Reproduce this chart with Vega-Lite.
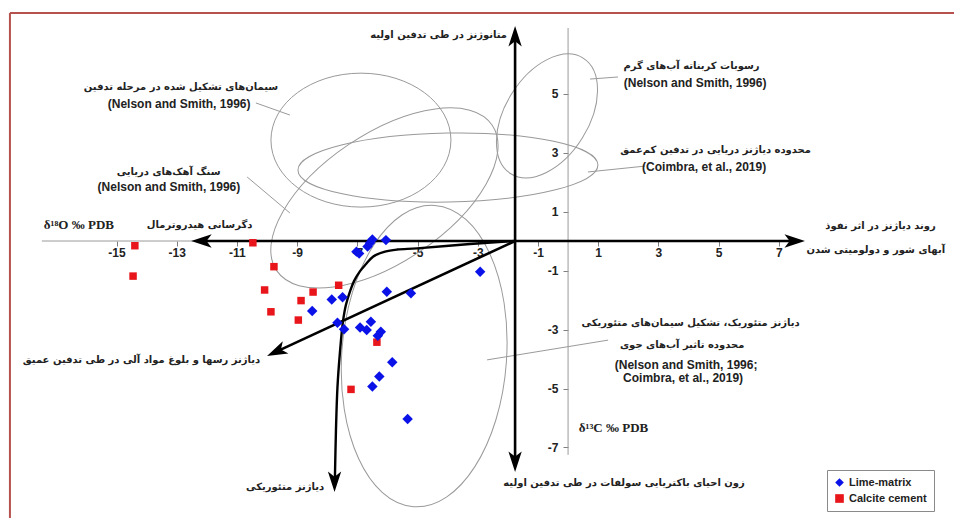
{
  "$schema": "https://vega.github.io/schema/vega-lite/v6.json",
  "width": 954,
  "height": 518,
  "autosize": {"type": "none"},
  "padding": 0,
  "background": "white",
  "config": {"view": {"stroke": null}},
  "datasets": {
    "lime": [
      {"d18O": -7.03, "d13C": -0.36, "type": "Lime-matrix"},
      {"d18O": -6.94, "d13C": -0.42, "type": "Lime-matrix"},
      {"d18O": -6.66, "d13C": -0.19, "type": "Lime-matrix"},
      {"d18O": -6.58, "d13C": -0.07, "type": "Lime-matrix"},
      {"d18O": -6.5, "d13C": 0.05, "type": "Lime-matrix"},
      {"d18O": -6.05, "d13C": 0.03, "type": "Lime-matrix"},
      {"d18O": -2.92, "d13C": -1.04, "type": "Lime-matrix"},
      {"d18O": -6.02, "d13C": -1.72, "type": "Lime-matrix"},
      {"d18O": -5.22, "d13C": -1.77, "type": "Lime-matrix"},
      {"d18O": -7.85, "d13C": -1.98, "type": "Lime-matrix"},
      {"d18O": -7.49, "d13C": -1.91, "type": "Lime-matrix"},
      {"d18O": -8.5, "d13C": -2.37, "type": "Lime-matrix"},
      {"d18O": -7.66, "d13C": -2.77, "type": "Lime-matrix"},
      {"d18O": -7.44, "d13C": -2.99, "type": "Lime-matrix"},
      {"d18O": -6.91, "d13C": -2.93, "type": "Lime-matrix"},
      {"d18O": -6.69, "d13C": -3.02, "type": "Lime-matrix"},
      {"d18O": -6.55, "d13C": -2.74, "type": "Lime-matrix"},
      {"d18O": -6.22, "d13C": -3.08, "type": "Lime-matrix"},
      {"d18O": -6.32, "d13C": -3.21, "type": "Lime-matrix"},
      {"d18O": -5.84, "d13C": -4.11, "type": "Lime-matrix"},
      {"d18O": -6.27, "d13C": -4.59, "type": "Lime-matrix"},
      {"d18O": -6.5, "d13C": -4.93, "type": "Lime-matrix"},
      {"d18O": -5.33, "d13C": -6.03, "type": "Lime-matrix"}
    ],
    "calcite": [
      {"d18O": -14.39, "d13C": -0.16, "type": "Calcite cement"},
      {"d18O": -14.45, "d13C": -1.19, "type": "Calcite cement"},
      {"d18O": -10.47, "d13C": -0.06, "type": "Calcite cement"},
      {"d18O": -9.77, "d13C": -0.87, "type": "Calcite cement"},
      {"d18O": -10.08, "d13C": -1.66, "type": "Calcite cement"},
      {"d18O": -8.47, "d13C": -1.73, "type": "Calcite cement"},
      {"d18O": -8.87, "d13C": -2.02, "type": "Calcite cement"},
      {"d18O": -7.62, "d13C": -1.5, "type": "Calcite cement"},
      {"d18O": -9.87, "d13C": -2.4, "type": "Calcite cement"},
      {"d18O": -8.96, "d13C": -2.68, "type": "Calcite cement"},
      {"d18O": -6.35, "d13C": -3.43, "type": "Calcite cement"},
      {"d18O": -7.21, "d13C": -5.03, "type": "Calcite cement"}
    ],
    "frame": [
      {"d18O": -18.54, "d13C": 7.73, "d18O_end": 12.82, "d13C_end": 7.73},
      {"d18O": -18.54, "d13C": 7.73, "d18O_end": -18.54, "d13C_end": -9.39}
    ],
    "grayAxes": [
      {"d18O": -17.48, "d13C": 0, "d18O_end": 7.6, "d13C_end": 0},
      {"d18O": 0, "d13C": 7.22, "d18O_end": 0, "d13C_end": -7.25}
    ],
    "leaders": [
      {"d18O": -10.37, "d13C": 4.68, "d18O_end": -9.24, "d13C_end": 4.27},
      {"d18O": -10.66, "d13C": 2.17, "d18O_end": -9.24, "d13C_end": 0.95},
      {"d18O": 0.73, "d13C": 5.49, "d18O_end": 1.66, "d13C_end": 5.56},
      {"d18O": 0.66, "d13C": 2.34, "d18O_end": 2.56, "d13C_end": 2.54},
      {"d18O": -2.69, "d13C": -4.03, "d18O_end": 1.33, "d13C_end": -3.36}
    ],
    "blackLines": [
      {"d18O": -12.05, "d13C": 0, "d18O_end": 7.4, "d13C_end": 0},
      {"d18O": -1.76, "d13C": 6.82, "d18O_end": -1.76, "d13C_end": -7.36},
      {"d18O": -1.76, "d13C": 0, "d18O_end": -9.58, "d13C_end": -3.7}
    ],
    "curve": [
      {"seq": 0, "d18O": -1.76, "d13C": 0.0},
      {"seq": 1, "d18O": -3.26, "d13C": -0.1},
      {"seq": 2, "d18O": -5.02, "d13C": -0.25},
      {"seq": 3, "d18O": -5.68, "d13C": -0.29},
      {"seq": 4, "d18O": -6.08, "d13C": -0.36},
      {"seq": 5, "d18O": -6.48, "d13C": -0.53},
      {"seq": 6, "d18O": -6.71, "d13C": -0.78},
      {"seq": 7, "d18O": -6.91, "d13C": -1.02},
      {"seq": 8, "d18O": -7.11, "d13C": -1.36},
      {"seq": 9, "d18O": -7.24, "d13C": -1.7},
      {"seq": 10, "d18O": -7.38, "d13C": -2.17},
      {"seq": 11, "d18O": -7.48, "d13C": -2.75},
      {"seq": 12, "d18O": -7.58, "d13C": -3.8},
      {"seq": 13, "d18O": -7.66, "d13C": -4.95},
      {"seq": 14, "d18O": -7.71, "d13C": -6.41},
      {"seq": 15, "d18O": -7.745, "d13C": -8.05}
    ],
    "faText": [
      {"d18O": -4.3, "d13C": 6.98, "label": "متانوژنز در طی تدفین اولیه"},
      {"d18O": -12.86, "d13C": 5.22, "label": "سیمان\u200cهای تشکیل شده در مرحله تدفین"},
      {"d18O": -13.27, "d13C": 2.34, "label": "سنگ آهک\u200cهای دریایی"},
      {"d18O": -12.24, "d13C": 0.54, "label": "دگرسانی هیدروترمال"},
      {"d18O": 4.1, "d13C": 5.93, "label": "رسوبات کربناته آب\u200cهای گرم"},
      {"d18O": 4.9, "d13C": 3.08, "label": "محدوده دیاژنز دریایی در تدفین کم\u200cعمق"},
      {"d18O": 10.38, "d13C": 0.51, "label": "روند دیاژنز در اثر نفوذ"},
      {"d18O": 10.22, "d13C": -0.31, "label": "آبهای شور و دولومیتی شدن"},
      {"d18O": 4.07, "d13C": -2.78, "label": "دیاژنز متئوریک، تشکیل سیمان\u200cهای متئوریکی"},
      {"d18O": 3.79, "d13C": -3.53, "label": "محدوده تاثیر آب\u200cهای جوی"},
      {"d18O": -14.17, "d13C": -4.03, "label": "دیاژنز رسها و بلوغ مواد آلی در طی تدفین عمیق"},
      {"d18O": -9.4, "d13C": -8.34, "label": "دیاژنز متئوریکی"},
      {"d18O": 1.86, "d13C": -8.2, "label": "زون احیای باکتریایی سولفات در طی تدفین اولیه"}
    ],
    "enText": [
      {"d18O": -12.92, "d13C": 4.64, "label": "(Nelson and Smith, 1996)"},
      {"d18O": -13.26, "d13C": 1.83, "label": "(Nelson and Smith, 1996)"},
      {"d18O": 4.22, "d13C": 5.36, "label": "(Nelson and Smith, 1996)"},
      {"d18O": 4.52, "d13C": 2.51, "label": "(Coimbra, et al., 2019)"},
      {"d18O": 3.92, "d13C": -4.2, "label": "(Nelson and Smith, 1996;"},
      {"d18O": 3.82, "d13C": -4.64, "label": "Coimbra, et al., 2019)"}
    ],
    "axisTitles": [
      {"d18O": -16.25, "d13C": 0.54, "label": "δ¹⁸O ‰ PDB"},
      {"d18O": 1.51, "d13C": -6.34, "label": "δ¹³C ‰ PDB"}
    ]
  },
  "encoding": {
    "x": {
      "field": "d18O",
      "type": "quantitative",
      "scale": {"domain": [-18.87, 12.82], "nice": false, "zero": false},
      "axis": {
        "orient": "bottom", "offset": -277, "title": null,
        "values": [-15, -13, -11, -9, -7, -5, -3, -1, 1, 3, 5, 7],
        "labelExpr": "datum.value < 0 ? '-' + abs(datum.value) : '' + datum.value",
        "domain": false, "grid": false, "tickSize": 5, "tickColor": "#808080",
        "labelFont": "Liberation Sans", "labelFontWeight": "bold", "labelFontSize": 12,
        "labelColor": "#222222", "labelPadding": 1, "labelFlush": false, "labelOverlap": false
      }
    },
    "y": {
      "field": "d13C",
      "type": "quantitative",
      "scale": {"domain": [-9.39, 8.17], "nice": false, "zero": false},
      "axis": {
        "orient": "left", "offset": -568, "title": null,
        "values": [-7, -5, -3, -1, 1, 3, 5],
        "labelExpr": "datum.value < 0 ? '-' + abs(datum.value) : '' + datum.value",
        "domain": false, "grid": false, "tickSize": 5, "tickColor": "#808080",
        "labelFont": "Liberation Sans", "labelFontWeight": "bold", "labelFontSize": 12,
        "labelColor": "#222222", "labelPadding": 5, "labelOverlap": false
      }
    }
  },
  "layer": [
    {
      "data": {"name": "frame"},
      "mark": {"type": "rule", "color": "#b5524e", "strokeWidth": 2},
      "encoding": {"x2": {"field": "d18O_end"}, "y2": {"field": "d13C_end"}}
    },
    {
      "data": {"name": "grayAxes"},
      "mark": {"type": "rule", "color": "#9a9a9a", "strokeWidth": 1},
      "encoding": {"x2": {"field": "d18O_end"}, "y2": {"field": "d13C_end"}}
    },
    {
      "data": {"values": [{"d18O": -0.7, "d13C": 4.24}]},
      "mark": {"type": "point", "filled": false, "opacity": 1, "color": "#999999", "strokeWidth": 1,
               "shape": "M-1,0 A1,0.611 0 1,1 1,0 A1,0.611 0 1,1 -1,0 Z", "size": 18605, "angle": 302}
    },
    {
      "data": {"values": [{"d18O": -3.99, "d13C": 2.49}]},
      "mark": {"type": "point", "filled": false, "opacity": 1, "color": "#999999", "strokeWidth": 1,
               "shape": "M-1,0 A1,0.23 0 1,1 1,0 A1,0.23 0 1,1 -1,0 Z", "size": 90000, "angle": 359}
    },
    {
      "data": {"values": [{"d18O": -6.88, "d13C": 3.42}]},
      "mark": {"type": "point", "filled": false, "opacity": 1, "color": "#999999", "strokeWidth": 1,
               "shape": "M-1,0 A1,0.744 0 1,1 1,0 A1,0.744 0 1,1 -1,0 Z", "size": 32400, "angle": 0}
    },
    {
      "data": {"values": [{"d18O": -6.1, "d13C": 1.46}]},
      "mark": {"type": "point", "filled": false, "opacity": 1, "color": "#999999", "strokeWidth": 1,
               "shape": "M-1,0 A1,0.494 0 1,1 1,0 A1,0.494 0 1,1 -1,0 Z", "size": 67600, "angle": 326}
    },
    {
      "data": {"values": [{"d18O": -4.78, "d13C": -3.9}]},
      "mark": {"type": "point", "filled": false, "opacity": 1, "color": "#999999", "strokeWidth": 1,
               "shape": "M0,-1 A0.546,1 0 1,1 0,1 A0.546,1 0 1,1 0,-1 Z", "size": 91204, "angle": 4}
    },
    {
      "data": {"name": "leaders"},
      "mark": {"type": "rule", "color": "#9a9a9a", "strokeWidth": 1},
      "encoding": {"x2": {"field": "d18O_end"}, "y2": {"field": "d13C_end"}}
    },
    {
      "data": {"name": "blackLines"},
      "mark": {"type": "rule", "color": "#000000", "strokeWidth": 2.6},
      "encoding": {"x2": {"field": "d18O_end"}, "y2": {"field": "d13C_end"}}
    },
    {
      "data": {"name": "curve"},
      "mark": {"type": "line", "color": "#000000", "strokeWidth": 2.4, "interpolate": "catmull-rom"},
      "encoding": {"order": {"field": "seq", "type": "quantitative"}}
    },
    {
      "data": {"values": [{"d18O": -12.52, "d13C": 0}]},
      "mark": {"type": "point", "filled": true, "opacity": 1, "color": "#000000", "strokeWidth": 0,
               "shape": "M0,0 L2,-0.65 L1.5,0 L2,0.65 Z", "size": 420, "angle": 0}
    },
    {
      "data": {"values": [{"d18O": 7.87, "d13C": 0}]},
      "mark": {"type": "point", "filled": true, "opacity": 1, "color": "#000000", "strokeWidth": 0,
               "shape": "M0,0 L2,-0.65 L1.5,0 L2,0.65 Z", "size": 420, "angle": 180}
    },
    {
      "data": {"values": [{"d18O": -1.76, "d13C": 7.29}]},
      "mark": {"type": "point", "filled": true, "opacity": 1, "color": "#000000", "strokeWidth": 0,
               "shape": "M0,0 L2,-0.65 L1.5,0 L2,0.65 Z", "size": 420, "angle": 90}
    },
    {
      "data": {"values": [{"d18O": -1.76, "d13C": -7.83}, {"d18O": -7.757, "d13C": -8.51}]},
      "mark": {"type": "point", "filled": true, "opacity": 1, "color": "#000000", "strokeWidth": 0,
               "shape": "M0,0 L2,-0.65 L1.5,0 L2,0.65 Z", "size": 420, "angle": 270}
    },
    {
      "data": {"values": [{"d18O": -10.0, "d13C": -3.9}]},
      "mark": {"type": "point", "filled": true, "opacity": 1, "color": "#000000", "strokeWidth": 0,
               "shape": "M0,0 L2,-0.65 L1.5,0 L2,0.65 Z", "size": 420, "angle": 335}
    },
    {
      "data": {"name": "calcite"},
      "mark": {"type": "point", "filled": true, "opacity": 1, "strokeWidth": 0, "size": 56},
      "encoding": {
        "color": {"field": "type", "type": "nominal",
                  "scale": {"domain": ["Lime-matrix", "Calcite cement"], "range": ["#0a12e8", "#e8151b"]},
                  "legend": {"title": null, "orient": "none", "legendX": 827, "legendY": 470,
                             "strokeColor": "#8a8a8a", "fillColor": "white", "padding": 7,
                             "labelFont": "Liberation Sans", "labelFontWeight": "bold", "labelFontSize": 11,
                             "labelColor": "#222222", "symbolSize": 75, "rowPadding": 4, "symbolStrokeWidth": 0}},
        "shape": {"field": "type", "type": "nominal",
                  "scale": {"domain": ["Lime-matrix", "Calcite cement"], "range": ["diamond", "square"]},
                  "legend": {"title": null, "orient": "none", "legendX": 827, "legendY": 470,
                             "strokeColor": "#8a8a8a", "fillColor": "white", "padding": 7,
                             "labelFont": "Liberation Sans", "labelFontWeight": "bold", "labelFontSize": 11,
                             "labelColor": "#222222", "symbolSize": 75, "rowPadding": 4, "symbolStrokeWidth": 0}}
      }
    },
    {
      "data": {"name": "lime"},
      "mark": {"type": "point", "filled": true, "opacity": 1, "strokeWidth": 0, "size": 110},
      "encoding": {
        "color": {"field": "type", "type": "nominal"},
        "shape": {"field": "type", "type": "nominal"}
      }
    },
    {
      "data": {"name": "faText"},
      "mark": {"type": "text", "align": "center", "baseline": "middle", "font": "DejaVu Sans",
               "fontWeight": "bold", "fontSize": 10, "color": "#222222"},
      "encoding": {"text": {"field": "label"}}
    },
    {
      "data": {"name": "enText"},
      "mark": {"type": "text", "align": "center", "baseline": "middle", "font": "Liberation Sans",
               "fontWeight": "bold", "fontSize": 12, "color": "#222222"},
      "encoding": {"text": {"field": "label"}}
    },
    {
      "data": {"name": "axisTitles"},
      "mark": {"type": "text", "align": "center", "baseline": "middle", "font": "Liberation Serif",
               "fontWeight": "bold", "fontSize": 13, "color": "#222222"},
      "encoding": {"text": {"field": "label"}}
    }
  ]
}
